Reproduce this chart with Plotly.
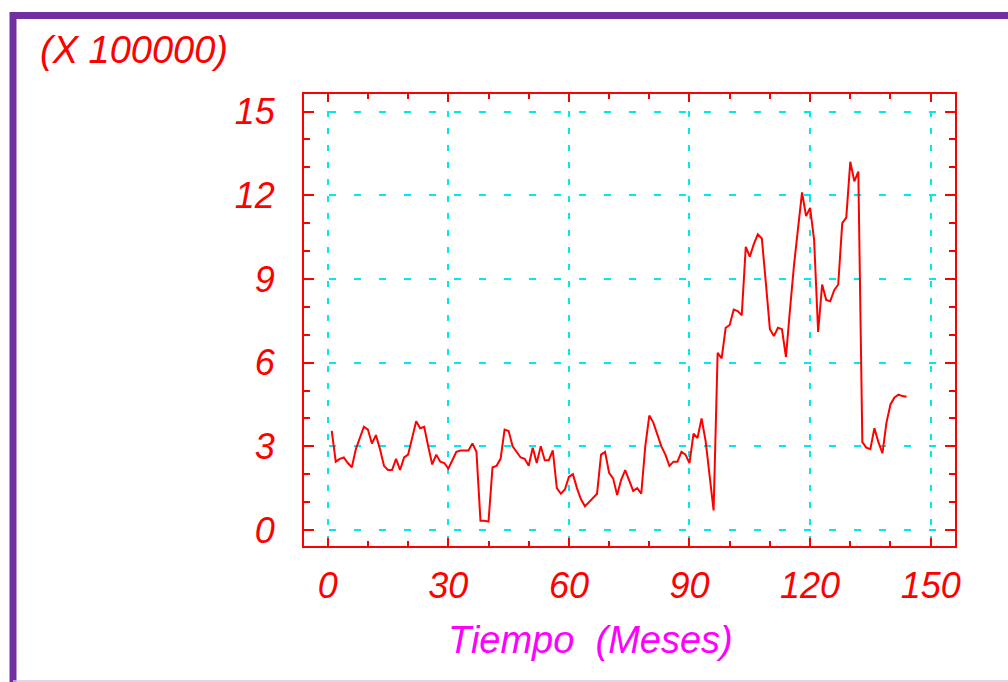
import plotly.graph_objects as go

# Monthly series (units of 100000), months 1..144
months = list(range(1, 145))
values = [
    3.55, 2.45, 2.55, 2.60, 2.40, 2.25, 2.90, 3.30, 3.70, 3.60,
    3.10, 3.40, 2.90, 2.30, 2.15, 2.15, 2.55, 2.15, 2.60, 2.70,
    3.30, 3.90, 3.65, 3.70, 3.00, 2.35, 2.70, 2.45, 2.40, 2.20,
    2.50, 2.80, 2.85, 2.85, 2.85, 3.10, 2.80, 0.33, 0.33, 0.30,
    2.25, 2.30, 2.55, 3.60, 3.55, 3.00, 2.80, 2.60, 2.55, 2.30,
    2.95, 2.40, 3.00, 2.50, 2.50, 2.85, 1.50, 1.30, 1.45, 1.90,
    2.00, 1.50, 1.10, 0.85, 1.00, 1.15, 1.30, 2.70, 2.80, 2.05,
    1.85, 1.25, 1.80, 2.15, 1.80, 1.40, 1.50, 1.30, 3.00, 4.10,
    3.85, 3.40, 3.00, 2.70, 2.30, 2.45, 2.45, 2.80, 2.70, 2.40,
    3.45, 3.30, 4.00, 3.20, 2.00, 0.70, 6.35, 6.15, 7.25, 7.35,
    7.90, 7.85, 7.70, 10.15, 9.80, 10.25, 10.60, 10.45, 8.85, 7.20,
    6.95, 7.25, 7.20, 6.20, 7.90, 9.50, 10.80, 12.10, 11.25, 11.55,
    10.40, 7.10, 8.80, 8.25, 8.20, 8.60, 8.80, 11.00, 11.20, 13.20,
    12.50, 12.85, 3.15, 2.95, 2.90, 3.65, 3.15, 2.75, 3.85, 4.50,
    4.75, 4.85, 4.80, 4.78,
]

x_ticks = [0, 30, 60, 90, 120, 150]
y_ticks = [0, 3, 6, 9, 12, 15]

W, H = 1008, 682
L, R, T, B = 304, 53, 94, 136
PW, PH = W - L - R, H - T - B


def px(xp):
    return (xp - L) / PW


def py(yp):
    return (H - B - yp) / PH


RED = "#FF0000"
CYAN = "#00E8F0"
FONT = "Liberation Sans, Arial, sans-serif"
TICK_SIZE = 36
TITLE_SIZE = 38

fig = go.Figure(
    go.Scatter(
        x=months, y=values, mode="lines",
        line=dict(color=RED, width=2),
        hoverinfo="skip",
    )
)

fig.update_layout(
    width=W, height=H,
    margin=dict(l=L, r=R, t=T, b=B, pad=0),
    paper_bgcolor="white", plot_bgcolor="white",
    showlegend=False,
    font=dict(family=FONT, color=RED, size=TICK_SIZE, style="italic"),
    xaxis=dict(
        range=[-5.9, 156.05], tickvals=x_ticks,
        ticks="inside", ticklen=8, tickwidth=2, tickcolor=RED,
        showline=True, linecolor=RED, linewidth=2, mirror="ticks",
        showgrid=True, gridcolor=CYAN, gridwidth=2, griddash="6px,11px",
        zeroline=False,
        tickfont=dict(family=FONT, color=RED, size=TICK_SIZE, style="italic"),
        ticklabelstandoff=7,
        minor=dict(dtick=10, tick0=0, ticks="inside", ticklen=5,
                   tickwidth=2, tickcolor=RED, showgrid=False),
    ),
    yaxis=dict(
        range=[-0.574, 15.63], tickvals=y_ticks,
        ticks="inside", ticklen=10, tickwidth=2, tickcolor=RED,
        showline=True, linecolor=RED, linewidth=2, mirror="ticks",
        showgrid=True, gridcolor=CYAN, gridwidth=2, griddash="7px,18px",
        zeroline=False,
        tickfont=dict(family=FONT, color=RED, size=TICK_SIZE, style="italic"),
        ticklabelstandoff=20,
        minor=dict(dtick=1, tick0=0, ticks="inside", ticklen=6,
                   tickwidth=2, tickcolor=RED, showgrid=False),
    ),
    shapes=[
        dict(type="rect", xref="paper", yref="paper",
             x0=px(13), x1=px(1030), y0=py(692), y1=py(15.5),
             line=dict(color="#7030A0", width=7), fillcolor="rgba(0,0,0,0)",
             layer="below"),
        dict(type="line", xref="paper", yref="paper",
             x0=px(13), x1=px(1030), y0=py(681), y1=py(681),
             line=dict(color="#D4C8E4", width=1.5)),
    ],
    annotations=[
        dict(text="(X 100000)", xref="paper", yref="paper",
             x=px(38), y=py(50), xanchor="left", yanchor="middle",
             showarrow=False,
             font=dict(family=FONT, color=RED, size=TITLE_SIZE, style="italic")),
        dict(text="Tiempo\u00a0\u00a0(Meses)", xref="paper", yref="paper",
             x=px(590), y=py(640), xanchor="center", yanchor="middle",
             showarrow=False,
             font=dict(family=FONT, color="#FF00FF", size=TITLE_SIZE,
                       style="italic")),
    ],
)

fig.write_html("out.html")
